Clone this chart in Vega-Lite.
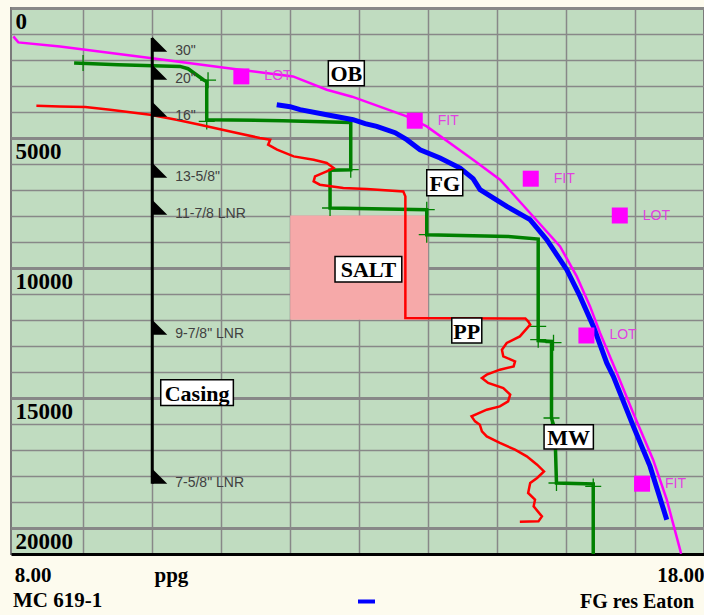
{
  "$schema": "https://vega.github.io/schema/vega-lite/v6.json",
  "width": 693,
  "height": 546,
  "autosize": {"type": "none"},
  "padding": {"left": 11, "top": 8, "right": 0, "bottom": 61},
  "background": "#fdfbee",
  "datasets": {
    "salt": [{"x1": 12, "x2": 14, "y1": 7980, "y2": 11990}],
    "ob": [
      {"ppg": 7.986, "depth": 1092}, {"ppg": 8.058, "depth": 1323}, {"ppg": 8.663, "depth": 1477},
      {"ppg": 9.997, "depth": 1931}, {"ppg": 11.273, "depth": 2373}, {"ppg": 12.041, "depth": 2631},
      {"ppg": 12.53, "depth": 3142}, {"ppg": 12.897, "depth": 3411}, {"ppg": 13.69, "depth": 4169},
      {"ppg": 13.98, "depth": 4554}, {"ppg": 14.652, "depth": 5834}, {"ppg": 15.043, "depth": 6603},
      {"ppg": 15.478, "depth": 7884}, {"ppg": 15.913, "depth": 9169}, {"ppg": 16.155, "depth": 10323},
      {"ppg": 16.348, "depth": 11477}, {"ppg": 16.493, "depth": 12500}, {"ppg": 16.735, "depth": 14026},
      {"ppg": 16.972, "depth": 15565}, {"ppg": 17.262, "depth": 17373}, {"ppg": 17.46, "depth": 18911},
      {"ppg": 17.653, "depth": 20834}, {"ppg": 17.668, "depth": 20988}
    ],
    "fg": [
      {"ppg": 11.805, "depth": 3719}, {"ppg": 11.998, "depth": 3796}, {"ppg": 12.143, "depth": 3911},
      {"ppg": 12.53, "depth": 4104}, {"ppg": 12.912, "depth": 4296}, {"ppg": 13.086, "depth": 4450},
      {"ppg": 13.255, "depth": 4554}, {"ppg": 13.521, "depth": 4796}, {"ppg": 13.69, "depth": 5065},
      {"ppg": 13.883, "depth": 5450}, {"ppg": 14.173, "depth": 5769}, {"ppg": 14.463, "depth": 6154},
      {"ppg": 14.652, "depth": 6565}, {"ppg": 14.753, "depth": 6988}, {"ppg": 15.14, "depth": 7630},
      {"ppg": 15.478, "depth": 8142}, {"ppg": 15.72, "depth": 8911}, {"ppg": 16.01, "depth": 10065},
      {"ppg": 16.203, "depth": 11092}, {"ppg": 16.396, "depth": 12246}, {"ppg": 16.59, "depth": 13653},
      {"ppg": 16.686, "depth": 14169}, {"ppg": 16.976, "depth": 16092}, {"ppg": 17.218, "depth": 17630},
      {"ppg": 17.46, "depth": 19680}
    ],
    "mw": [
      {"ppg": 8.867, "depth": 2115}, {"ppg": 9.504, "depth": 2181}, {"ppg": 10.403, "depth": 2246},
      {"ppg": 10.519, "depth": 2335}, {"ppg": 10.741, "depth": 2758}, {"ppg": 10.79, "depth": 2835},
      {"ppg": 10.79, "depth": 4296}, {"ppg": 11.896, "depth": 4335}, {"ppg": 12.878, "depth": 4400},
      {"ppg": 12.878, "depth": 6219}, {"ppg": 12.578, "depth": 6238}, {"ppg": 12.578, "depth": 7692},
      {"ppg": 13.98, "depth": 7758}, {"ppg": 13.98, "depth": 8719}, {"ppg": 15.161, "depth": 8785},
      {"ppg": 15.596, "depth": 8884}, {"ppg": 15.596, "depth": 12796}, {"ppg": 15.789, "depth": 12823},
      {"ppg": 15.789, "depth": 15769}, {"ppg": 15.838, "depth": 16219}, {"ppg": 15.861, "depth": 18269},
      {"ppg": 16.394, "depth": 18308}, {"ppg": 16.394, "depth": 21000}
    ],
    "crosses": [
      {"ppg": 8.997, "depth": 2115}, {"ppg": 10.809, "depth": 2777}, {"ppg": 10.79, "depth": 4361},
      {"ppg": 12.878, "depth": 6219}, {"ppg": 12.578, "depth": 7692}, {"ppg": 13.98, "depth": 7758},
      {"ppg": 13.98, "depth": 8719}, {"ppg": 15.596, "depth": 12246}, {"ppg": 15.596, "depth": 12757},
      {"ppg": 15.818, "depth": 12873}, {"ppg": 15.789, "depth": 15769}, {"ppg": 15.861, "depth": 18269},
      {"ppg": 16.394, "depth": 18400}
    ],
    "pp": [
      {"ppg": 8.32, "depth": 3758}, {"ppg": 8.66, "depth": 3785}, {"ppg": 9.03, "depth": 3808},
      {"ppg": 9.39, "depth": 3911}, {"ppg": 9.97, "depth": 4104}, {"ppg": 10.35, "depth": 4296},
      {"ppg": 10.69, "depth": 4488}, {"ppg": 11.18, "depth": 4777}, {"ppg": 11.56, "depth": 5000},
      {"ppg": 11.71, "depth": 5065}, {"ppg": 11.68, "depth": 5258}, {"ppg": 11.81, "depth": 5450},
      {"ppg": 12.05, "depth": 5707}, {"ppg": 12.34, "depth": 5834}, {"ppg": 12.53, "depth": 5961},
      {"ppg": 12.63, "depth": 6154}, {"ppg": 12.53, "depth": 6284}, {"ppg": 12.36, "depth": 6477},
      {"ppg": 12.34, "depth": 6669}, {"ppg": 12.43, "depth": 6796}, {"ppg": 12.77, "depth": 6923},
      {"ppg": 13.11, "depth": 6961}, {"ppg": 13.64, "depth": 7054}, {"ppg": 13.67, "depth": 7246},
      {"ppg": 13.67, "depth": 11923}, {"ppg": 15.41, "depth": 11940}, {"ppg": 15.45, "depth": 12053},
      {"ppg": 15.48, "depth": 12180}, {"ppg": 15.33, "depth": 12630}, {"ppg": 15.14, "depth": 12884},
      {"ppg": 15.07, "depth": 13142}, {"ppg": 15.09, "depth": 13400}, {"ppg": 15.26, "depth": 13592},
      {"ppg": 15.24, "depth": 13784}, {"ppg": 15.04, "depth": 13911}, {"ppg": 14.85, "depth": 14104},
      {"ppg": 14.78, "depth": 14230}, {"ppg": 14.87, "depth": 14423}, {"ppg": 15.09, "depth": 14615},
      {"ppg": 15.19, "depth": 14873}, {"ppg": 15.16, "depth": 15130}, {"ppg": 15.04, "depth": 15323},
      {"ppg": 14.85, "depth": 15450}, {"ppg": 14.63, "depth": 15707}, {"ppg": 14.68, "depth": 15900},
      {"ppg": 14.75, "depth": 16027}, {"ppg": 14.78, "depth": 16284}, {"ppg": 14.85, "depth": 16477},
      {"ppg": 15.04, "depth": 16730}, {"ppg": 15.26, "depth": 16988}, {"ppg": 15.43, "depth": 17245},
      {"ppg": 15.58, "depth": 17565}, {"ppg": 15.68, "depth": 17823}, {"ppg": 15.58, "depth": 18076},
      {"ppg": 15.48, "depth": 18268}, {"ppg": 15.45, "depth": 18653}, {"ppg": 15.55, "depth": 18911},
      {"ppg": 15.53, "depth": 19168}, {"ppg": 15.65, "depth": 19553}, {"ppg": 15.6, "depth": 19745},
      {"ppg": 15.33, "depth": 19760}
    ],
    "casingLine": [{"ppg": 10, "top": 1150, "bottom": 18296}],
    "casing": [
      {"ppg": 10, "depth": 1680, "label": "30\""},
      {"ppg": 10, "depth": 2758, "label": "20\""},
      {"ppg": 10, "depth": 4180, "label": "16\""},
      {"ppg": 10, "depth": 6527, "label": "13-5/8\""},
      {"ppg": 10, "depth": 7950, "label": "11-7/8 LNR"},
      {"ppg": 10, "depth": 12565, "label": "9-7/8\" LNR"},
      {"ppg": 10, "depth": 18296, "label": "7-5/8\" LNR"}
    ],
    "tests": [
      {"ppg": 11.292, "depth": 2631, "test": "LOT"},
      {"ppg": 13.806, "depth": 4335, "test": "FIT"},
      {"ppg": 15.488, "depth": 6565, "test": "FIT"},
      {"ppg": 16.779, "depth": 7981, "test": "LOT"},
      {"ppg": 16.295, "depth": 12596, "test": "LOT"},
      {"ppg": 17.102, "depth": 18296, "test": "FIT"}
    ],
    "boxes": [
      {"label": "OB", "x1": 12.553, "x2": 13.075, "y1": 2027, "y2": 2988, "cx": 12.814, "cy": 2508},
      {"label": "FG", "x1": 13.98, "x2": 14.502, "y1": 6219, "y2": 7219, "cx": 14.241, "cy": 6719},
      {"label": "SALT", "x1": 12.65, "x2": 13.618, "y1": 9553, "y2": 10538, "cx": 13.134, "cy": 10046},
      {"label": "PP", "x1": 14.343, "x2": 14.778, "y1": 11923, "y2": 12884, "cx": 14.56, "cy": 12404},
      {"label": "MW", "x1": 15.681, "x2": 16.396, "y1": 16027, "y2": 16961, "cx": 16.038, "cy": 16494},
      {"label": "Casing", "x1": 10.123, "x2": 11.176, "y1": 14296, "y2": 15284, "cx": 10.65, "cy": 14790}
    ]
  },
  "encoding": {
    "x": {
      "field": "ppg", "type": "quantitative",
      "scale": {"domain": [7.952, 18], "nice": false, "zero": false},
      "axis": {
        "values": [8, 9, 10, 11, 12, 13, 14, 15, 16, 17, 18],
        "labelExpr": "datum.value == 8 || datum.value == 18 ? format(datum.value, '.2f') : ''",
        "labelAlign": {"condition": {"test": "datum.value < 10", "value": "left"}, "value": "right"},
        "labelBaseline": "middle",
        "labelPadding": 21,
        "labelFont": "Liberation Serif", "labelFontSize": 21, "labelFontWeight": "bold", "labelColor": "black",
        "labelOverlap": false, "labelBound": false, "labelFlush": false,
        "ticks": false, "tickSize": 0,
        "domain": true, "domainColor": "black", "domainWidth": 3,
        "grid": true, "gridColor": "#888888", "gridWidth": 1.5,
        "gridOpacity": {"condition": {"test": "datum.value == 8 || datum.value == 18", "value": 0}, "value": 1},
        "title": "ppg", "titleX": 143, "titleY": 21, "titleAlign": "left", "titleBaseline": "middle", "titleAnchor": "start",
        "titleFont": "Liberation Serif", "titleFontSize": 21, "titleFontWeight": "bold", "titleColor": "black"
      }
    },
    "y": {
      "field": "depth", "type": "quantitative",
      "scale": {"domain": [0, 21000], "nice": false, "zero": false, "reverse": true},
      "axis": {
        "values": [0, 1000, 2000, 3000, 4000, 5000, 6000, 7000, 8000, 9000, 10000, 11000, 12000, 13000, 14000, 15000, 16000, 17000, 18000, 19000, 20000],
        "format": "d",
        "labelExpr": "datum.value % 5000 == 0 ? datum.label : ''",
        "labelAlign": "left", "labelBaseline": "top", "labelPadding": -4, "labelOffset": 2,
        "labelFont": "Liberation Serif", "labelFontSize": 23, "labelFontWeight": "bold", "labelColor": "black",
        "labelOverlap": false, "labelBound": false, "labelFlush": false,
        "ticks": false, "tickSize": 0, "domain": false,
        "grid": true, "gridColor": "#888888",
        "gridWidth": {"condition": {"test": "datum.value % 5000 == 0", "value": 3}, "value": 1.5},
        "title": null
      }
    }
  },
  "layer": [
    {
      "data": {"name": "salt"},
      "mark": {"type": "rect", "color": "#f6a9a9"},
      "encoding": {
        "x": {"field": "x1", "type": "quantitative"}, "x2": {"field": "x2"},
        "y": {"field": "y1", "type": "quantitative"}, "y2": {"field": "y2"}
      }
    },
    {
      "data": {"name": "mw"},
      "mark": {"type": "line", "color": "#008000", "strokeWidth": 3.5},
      "encoding": {"order": {"field": "depth", "type": "quantitative"}}
    },
    {
      "data": {"name": "crosses"},
      "mark": {"type": "point", "shape": "M-1,0H1M0,-1V1", "filled": false, "color": "#008000", "strokeWidth": 1.3, "size": 256, "opacity": 1}
    },
    {
      "data": {"name": "pp"},
      "mark": {"type": "line", "color": "#ff0000", "strokeWidth": 2.5},
      "encoding": {"order": {"field": "depth", "type": "quantitative"}}
    },
    {
      "data": {"name": "ob"},
      "mark": {"type": "line", "color": "#ff00ff", "strokeWidth": 2.5},
      "encoding": {"order": {"field": "depth", "type": "quantitative"}}
    },
    {
      "data": {"name": "fg"},
      "mark": {"type": "line", "strokeWidth": 5},
      "encoding": {
        "order": {"field": "depth", "type": "quantitative"},
        "color": {
          "datum": "FG res Eaton", "type": "nominal",
          "scale": {"range": ["#0000ff"]},
          "legend": {
            "orient": "none", "legendX": 2, "legendY": 583,
            "title": "MC 619-1", "titleOrient": "left", "titlePadding": 253,
            "titleFont": "Liberation Serif", "titleFontSize": 21, "titleFontWeight": "bold", "titleColor": "black",
            "symbolType": "stroke", "symbolStrokeWidth": 4, "symbolSize": 289,
            "labelFont": "Liberation Serif", "labelFontSize": 20, "labelFontWeight": "bold", "labelColor": "black",
            "labelOffset": 203, "labelLimit": 0, "padding": 0
          }
        }
      }
    },
    {
      "data": {"name": "casingLine"},
      "mark": {"type": "rule", "color": "black", "strokeWidth": 3},
      "encoding": {
        "y": {"field": "top", "type": "quantitative"},
        "y2": {"field": "bottom"}
      }
    },
    {
      "data": {"name": "casing"},
      "mark": {"type": "point", "shape": "M0,-2L2,0L0,0Z", "filled": true, "color": "black", "size": 225, "opacity": 1}
    },
    {
      "data": {"name": "casing"},
      "mark": {"type": "text", "align": "left", "baseline": "middle", "dx": 23, "dy": -1, "font": "Liberation Sans", "fontSize": 14, "color": "#404040"},
      "encoding": {"text": {"field": "label"}}
    },
    {
      "data": {"name": "tests"},
      "mark": {"type": "point", "shape": "square", "filled": true, "color": "#ff00ff", "size": 256, "opacity": 1}
    },
    {
      "data": {"name": "tests"},
      "mark": {"type": "text", "align": "left", "baseline": "middle", "dx": 23, "font": "Liberation Sans", "fontSize": 14, "color": "#e040e0"},
      "encoding": {"text": {"field": "test"}}
    },
    {
      "data": {"name": "boxes"},
      "mark": {"type": "rect", "fill": "white", "stroke": "black", "strokeWidth": 1.5},
      "encoding": {
        "x": {"field": "x1", "type": "quantitative"}, "x2": {"field": "x2"},
        "y": {"field": "y1", "type": "quantitative"}, "y2": {"field": "y2"}
      }
    },
    {
      "data": {"name": "boxes"},
      "mark": {"type": "text", "align": "center", "baseline": "middle", "dy": 1, "font": "Liberation Serif", "fontSize": 22, "fontWeight": "bold", "color": "black"},
      "encoding": {
        "x": {"field": "cx", "type": "quantitative"},
        "y": {"field": "cy", "type": "quantitative"},
        "text": {"field": "label"}
      }
    }
  ],
  "config": {
    "view": {"fill": "#c0dcc0", "stroke": "#7a7a7a", "strokeWidth": 2}
  }
}
